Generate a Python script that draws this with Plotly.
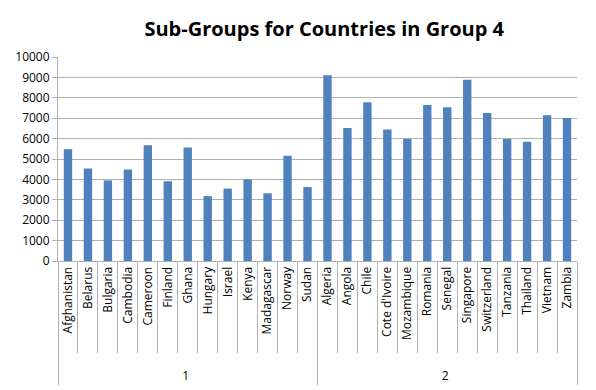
import plotly.graph_objects as go

groups = ["1"] * 13 + ["2"] * 13
countries = ["Afghanistan", "Belarus", "Bulgaria", "Cambodia", "Cameroon", "Finland", "Ghana",
             "Hungary", "Israel", "Kenya", "Madagascar", "Norway", "Sudan",
             "Algeria", "Angola", "Chile", "Cote d'Ivoire", "Mozambique", "Romania", "Senegal",
             "Singapore", "Switzerland", "Tanzania", "Thailand", "Vietnam", "Zambia"]
values = [5480, 4540, 3950, 4490, 5680, 3910, 5560, 3180, 3550, 4000, 3320, 5160, 3630,
          9110, 6520, 7780, 6440, 5980, 7650, 7540, 8880, 7260, 5980, 5840, 7150, 7010]

# group labels set one line lower, as in the reference's two-level axis
group_labels = ["<br>" + g for g in groups]

fig = go.Figure(go.Bar(x=[group_labels, countries], y=values, marker_color="#4F81BD",
                       marker_line_width=0, hoverinfo="skip"))

fig.update_layout(
    width=596, height=390,
    margin=dict(l=58, r=19, t=57, b=129),
    paper_bgcolor="white", plot_bgcolor="white",
    bargap=0.58,
    showlegend=False,
    title=dict(text="<b>Sub-Groups for Countries in Group 4</b>", x=0.544, xanchor="center",
               y=0.925, yanchor="middle",
               font=dict(family="Open Sans", size=20, color="black")),
    font=dict(family="Open Sans", size=11, color="black"),
)
fig.update_xaxes(type="multicategory", tickangle=-90, showline=True, linecolor="#b0b0b0",
                 linewidth=1, ticks="outside", ticklen=91, tickcolor="#b0b0b0",
                 showdividers=True, dividercolor="#b0b0b0", dividerwidth=1,
                 tickfont=dict(size=12, color="black"), automargin=False)
fig.update_yaxes(range=[0, 10000], dtick=1000, tickformat="d", showgrid=True,
                 gridcolor="#b0b0b0", showline=True, linecolor="#b0b0b0", ticks="outside",
                 ticklen=5, tickcolor="#b0b0b0", tickfont=dict(size=12, color="black"),
                 zeroline=False, automargin=False)

fig.write_html("out.html", config={"displayModeBar": False},
               post_script="document.body.style.margin='0';")
